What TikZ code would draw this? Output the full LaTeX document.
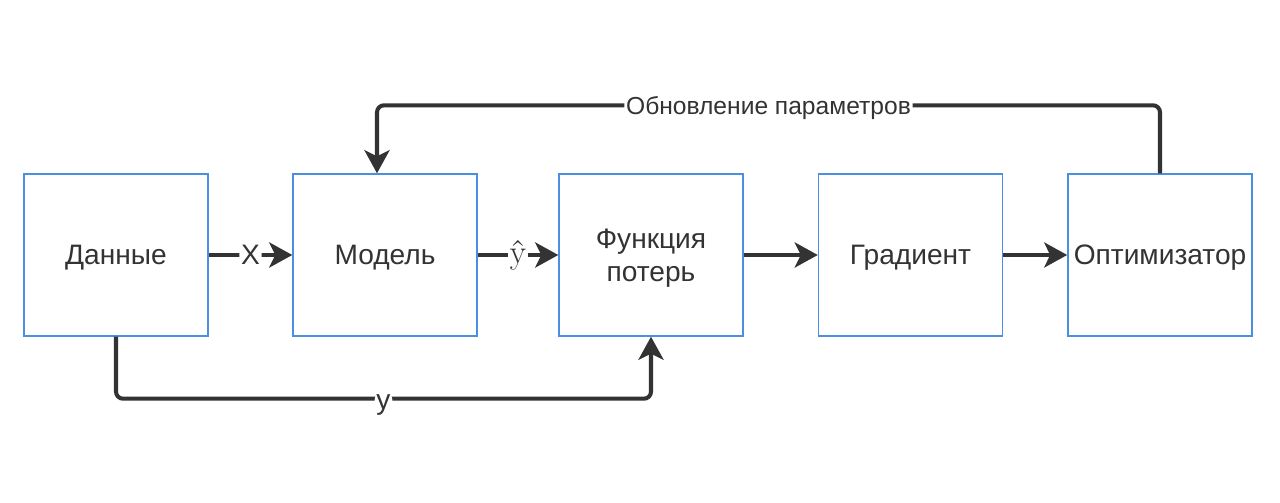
\documentclass[tikz,border=0pt]{standalone}
\usepackage{fontspec}
\setmainfont{Liberation Sans}
\newfontfamily\serifhat{Latin Modern Roman}
\usetikzlibrary{arrows.meta,calc}
\definecolor{boxblue}{HTML}{4A8FE2}
\definecolor{ink}{HTML}{333333}

\begin{document}
\begin{tikzpicture}[
		block/.style={draw=boxblue, line width=0.8pt, minimum width=3.68cm, minimum height=3.24cm, align=center, text=ink, text depth=0pt, font=\fontsize{16}{19}\selectfont},
		flow/.style={draw=ink, line width=2.3pt, rounded corners=4pt, -{Stealth[length=4.6mm,width=5mm,inset=1.2mm]}},
		lbl/.style={fill=white, inner sep=1pt, text=ink, font=\fontsize{16}{19}\selectfont},
		toplbl/.style={fill=white, inner sep=1pt, text=ink, text depth=0pt, font=\fontsize{14}{17}\selectfont}
	]
	%%%%% START %%%%%
	
	\useasboundingbox (0, 0) rectangle (25.6, 10.04);
	
	\node[block] (data) at (2.32, 4.94) {Данные};
	\node[block] (model) at (7.70, 4.94) {Модель};
	\node[block] (loss) at (13.02, 4.94) {Функция\\потерь};
	\node[block] (grad) at (18.21, 4.94) {Градиент};
	\node[block] (opt) at (23.20, 4.94) {Оптимизатор};
	
	\draw[flow] (data) -- node[lbl]{X} (model);
	\draw[flow] (model) -- node[lbl, font=\serifhat\fontsize{19}{21}\selectfont]{ŷ} (loss);
	\draw[flow] (loss) -- (grad);
	\draw[flow] (grad) -- (opt);
	
	\draw[flow] (opt.north) |- node[toplbl, pos=0.75]{Обновление параметров} ([xshift=-0.16cm, yshift=1.36cm]model.north) -- ([xshift=-0.16cm]model.north);
	
	\draw[flow] (data.south) -- ++(0, -1.24) -| node[lbl, pos=0.25, yshift=-0.12cm]{y} (loss.south);
	
	%%%%% END %%%%%
\end{tikzpicture}
\end{document}
